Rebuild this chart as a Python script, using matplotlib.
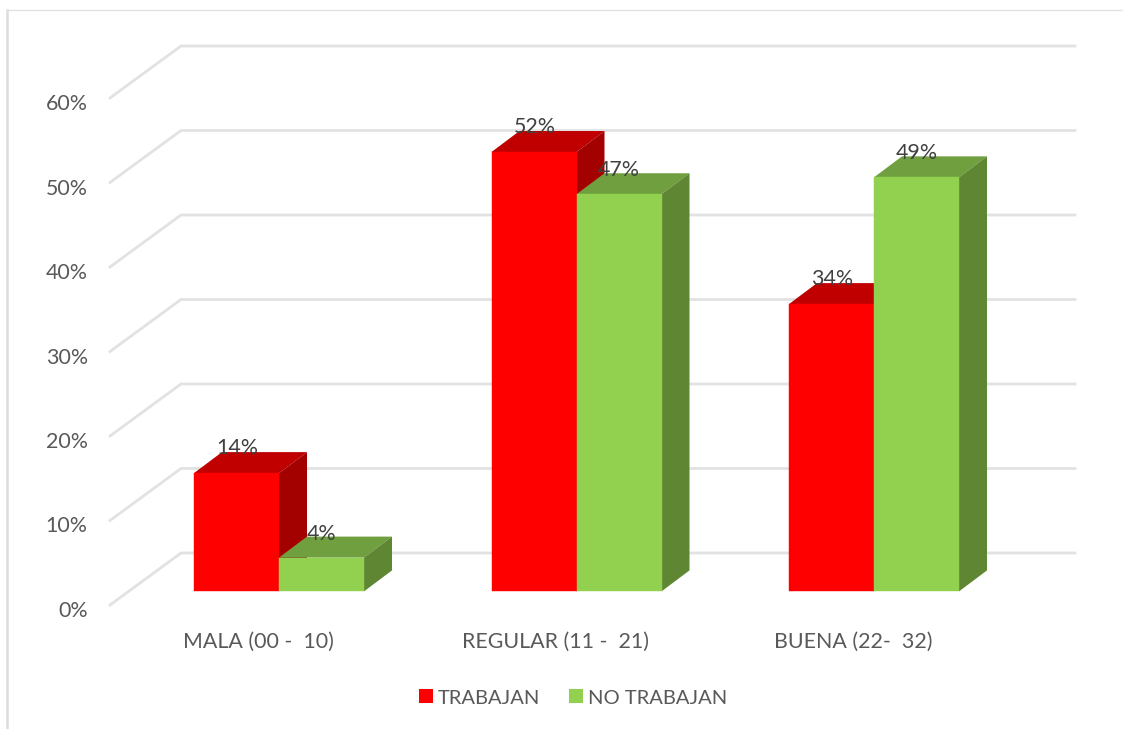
import matplotlib
import matplotlib.pyplot as plt
from matplotlib.patches import Polygon, Patch
from matplotlib.transforms import ScaledTranslation
import numpy as np
plt.switch_backend('agg')

matplotlib.rcParams['font.family'] = ['Lato', 'DejaVu Sans']

categories = ['MALA (00 -  10)', 'REGULAR (11 -  21)', 'BUENA (22-  32)']
trabajan = [14, 52, 34]
no_trabajan = [4, 47, 49]
y_ticks = [0, 10, 20, 30, 40, 50, 60]
series_names = ['TRABAJAN', 'NO TRABAJAN']

W, H = 1123, 729
TXT = '#595959'

def draw_bar(ax, x0, val, w, faces, sx, sy, base):
	# front face plus the fake 3d top and side
	dx, dy = 28*sx, 21*sy
	x1 = x0 + w
	top = val + base
	ax.add_patch(Polygon([(x0, top), (x0+dx, top+dy), (x1+dx, top+dy), (x1, top)], fc=faces[1], ec='none', zorder=3, clip_on=False))
	ax.add_patch(Polygon([(x1, base), (x1+dx, base+dy), (x1+dx, top+dy), (x1, top)], fc=faces[2], ec='none', zorder=3, clip_on=False))
	ax.add_patch(Polygon([(x0, base), (x1, base), (x1, top), (x0, top)], fc=faces[0], ec=faces[0], lw=0.3, zorder=4, clip_on=False))

if __name__=='__main__':
	fig = plt.figure(figsize=(W/100, H/100), dpi=100)
	ax = fig.add_axes([110/W, 1-605/H, (1075-110)/W, (605-98)/H])
	ax.set_xlim(-148/297.5, 817/297.5)
	ax.set_ylim(0, 60)
	for s in ax.spines.values():
		s.set_visible(False)
	sx = 1/297.5
	sy = 60/507.0

	# floor and wall lines, drawn in the axes with a shift up the wall
	for v in y_ticks:
		ax.plot([-148*sx, -77*sx, 817*sx], [v, v+52*sy, v+52*sy], color='#e2e2e2', lw=2.0, solid_joinstyle='miter', zorder=1, clip_on=False)

	red = ['#ff0000', '#c00000', '#a30000']
	green = ['#92d050', '#6f9f3e', '#5f8633']
	w = 85*sx
	start = -64*sx
	base = 13.6*sy
	lab_fs = 15.4
	for i in range(len(categories)):
		x0 = i + start
		draw_bar(ax, x0, trabajan[i], w, red, sx, sy, base)
		ax.text(x0+w/2+1*sx, trabajan[i]+base+25*sy, '%d%%'%trabajan[i], ha='center', va='center', fontsize=lab_fs, color='#404040', zorder=6)
	for i in range(len(categories)):
		x0 = i + start + w
		draw_bar(ax, x0, no_trabajan[i], w, green, sx, sy, base)
		ax.text(x0+w/2, no_trabajan[i]+base+24*sy, '%d%%'%no_trabajan[i], ha='center', va='center', fontsize=lab_fs, color='#404040', zorder=6)

	ax.set_xticks(range(len(categories)))
	ax.set_xticklabels(categories, fontsize=lab_fs, color=TXT)
	ax.set_yticks(y_ticks)
	ax.set_yticklabels(['%d%%'%v for v in y_ticks], fontsize=lab_fs, color=TXT)
	ax.tick_params(axis='both', length=0)
	ax.tick_params(axis='x', pad=19)
	ax.tick_params(axis='y', pad=16)
	# y labels sit a little under their floor line
	for lab in ax.get_yticklabels():
		lab.set_transform(lab.get_transform() + ScaledTranslation(0, -4/100, fig.dpi_scale_trans))

	handles = [Patch(fc=red[0], ec='none', label=series_names[0]), Patch(fc=green[0], ec='none', label=series_names[1])]
	fig.legend(handles=handles, loc='center', bbox_to_anchor=(573/W, 1-698/H), ncol=2, frameon=False,
		fontsize=14.5, labelcolor=TXT, handlelength=0.69, handleheight=0.69, handletextpad=0.25, columnspacing=1.4)

	# chart frame, top and left only
	fig.add_artist(plt.Line2D([7/W, 7/W], [0, 1-10/H], color='#dcdcdc', lw=1.8))
	fig.add_artist(plt.Line2D([7/W, 1], [1-10/H, 1-10/H], color='#e2e2e2', lw=1.0))

	plt.savefig('out.png', dpi=100)
